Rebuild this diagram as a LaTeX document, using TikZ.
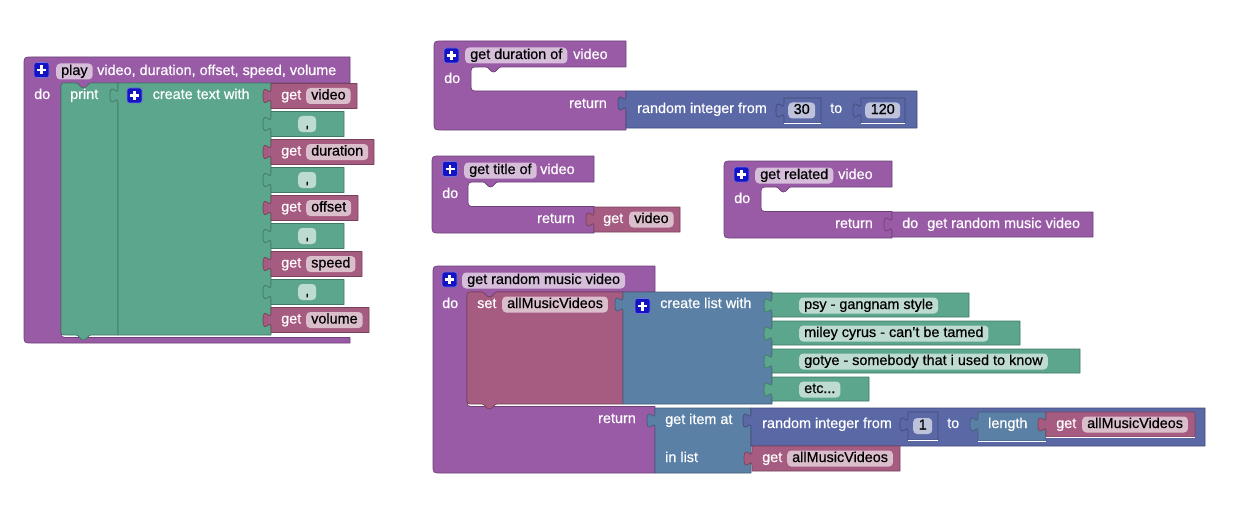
\documentclass[tikz,border=0pt]{standalone}
\usepackage{fontspec}
\setmainfont{Liberation Sans}[FakeBold=0.5]

\definecolor{procpurple}{HTML}{995BA6}
\definecolor{textgreen}{HTML}{5BA68D}
\definecolor{varred}{HTML}{A65B80}
\definecolor{mathblue}{HTML}{5B68A6}
\definecolor{listblue}{HTML}{5B80A6}
\definecolor{pfield}{HTML}{D6BEDB}
\definecolor{gfield}{HTML}{BEDBD1}
\definecolor{rfield}{HTML}{DBBECC}
\definecolor{mfield}{HTML}{BEC2DB}
\definecolor{plusblue}{HTML}{1414C4}

% procedure definition: colour, x0,y0, header right, header bottom, arm right, mouth bottom, bottom-row right, bottom
\newcommand\blkproc[9]{%
  \filldraw[blk=#1] (#2,#3+8) .. controls (#2,#3) .. (#2+8,#3) -- (#4,#3) -- (#4,#5)
    -- (#6+30,#5) .. controls (#6+27,#5) and (#6+26,#5+5) .. (#6+22.5,#5+5)
    .. controls (#6+19,#5+5) and (#6+18,#5) .. (#6+15,#5)
    -- (#6+8,#5) .. controls (#6,#5) .. (#6,#5+8)
    -- (#6,#7-8) .. controls (#6,#7) .. (#6+8,#7)
    -- (#8,#7) -- (#8,#9) -- (#2+8,#9) .. controls (#2,#9) .. (#2,#9-8) -- cycle;}
% statement block: colour, x, y, right, bottom
\newcommand\blkstmt[5]{%
  \filldraw[blk=#1] (#2,#3+6) .. controls (#2,#3) .. (#2+6,#3) -- (#2+15,#3)
    .. controls (#2+18,#3) and (#2+19,#3+5) .. (#2+22.5,#3+5)
    .. controls (#2+26,#3+5) and (#2+27,#3) .. (#2+30,#3)
    -- (#4,#3) -- (#4,#5) -- (#2+30,#5)
    .. controls (#2+27,#5) and (#2+26,#5+5) .. (#2+22.5,#5+5)
    .. controls (#2+19,#5+5) and (#2+18,#5) .. (#2+15,#5)
    -- (#2+6,#5) .. controls (#2,#5) .. (#2,#5-6) -- cycle;}
% value block with output tab: colour, x, y, right, bottom
\newcommand\blkval[5]{%
  \filldraw[blk=#1] (#2,#3) -- (#4,#3) -- (#4,#5) -- (#2,#5) -- (#2,#3+20)
    .. controls (#2,#3+10) and (#2-8,#3+28) .. (#2-8,#3+12.5)
    .. controls (#2-8,#3-3) and (#2,#3+15) .. (#2,#3+5) -- cycle;}
% mutator icon centred at x, y
\newcommand\blkplus[2]{%
  \filldraw[fill=plusblue, draw=plusblue!60!white, line width=0.6pt, rounded corners=2.5pt]
    (#1-7.5,#2-7.5) rectangle (#1+7.5,#2+7.5);
  \draw[white, line width=2.3pt] (#1-4.5,#2) -- (#1+4.5,#2) (#1,#2-4.5) -- (#1,#2+4.5);}

\begin{document}
\begin{tikzpicture}[x=1pt, y=-1pt, font=\fontsize{14.4}{17}\selectfont,
  blk/.style={fill=#1, draw=#1!72!black, line width=0.7pt, line join=round},
  lbl/.style={text=white, anchor=base west, inner sep=0pt},
  lblr/.style={lbl, anchor=base east},
  fld/.style={fill=#1, text=black, anchor=base west, inner xsep=5pt, inner ysep=0pt,
    text height=11.5pt, text depth=4.5pt, rounded corners=4pt},
  numfld/.style={fld=mfield, inner xsep=5.5pt},
  commafld/.style={fld=gfield, minimum width=18pt},
  holeline/.style={white, line width=1.2pt}]
\useasboundingbox (0,0) rectangle (1246,516);
\fill[white] (0,0) rectangle (1246,516);

% ---------- play ----------
\blkproc{procpurple}{24}{57}{350}{83}{61}{337.5}{350}{343}
\blkplus{41.5}{70}
\node[fld=pfield] (playname) at (56,75) {play};
\node[lbl] (playargs) at (97,75) {video, duration, offset, speed, volume};
\node[lbl] (playdo) at (34,99) {do};
\blkstmt{textgreen}{61}{83}{118}{335}
\node[lbl] (printlbl) at (70,99) {print};
\blkval{textgreen}{118}{83}{271}{335}
\blkplus{134.5}{95.5}
\node[lbl] (ctwlbl) at (152.5,99) {create text with};
\blkval{varred}{271}{83.5}{357}{108.5}
\blkval{textgreen}{271}{111.5}{344}{136.5}
\blkval{varred}{271}{139.5}{374}{164.5}
\blkval{textgreen}{271}{167.5}{344}{192.5}
\blkval{varred}{271}{195.5}{358}{220.5}
\blkval{textgreen}{271}{223.5}{344}{248.5}
\blkval{varred}{271}{251.5}{362}{276.5}
\blkval{textgreen}{271}{279.5}{344}{304.5}
\blkval{varred}{271}{307.5}{369}{332.5}
\node[lbl] (g1) at (281,99.5) {get};
\node[fld=rfield] (v1) at (306,99.5) {video};
\node[commafld] (c1) at (298,127.5) {,};
\node[lbl] (g2) at (281,155.5) {get};
\node[fld=rfield] (v2) at (306,155.5) {duration};
\node[commafld] (c2) at (298,183.5) {,};
\node[lbl] (g3) at (281,211.5) {get};
\node[fld=rfield] (v3) at (306,211.5) {offset};
\node[commafld] (c3) at (298,239.5) {,};
\node[lbl] (g4) at (281,267.5) {get};
\node[fld=rfield] (v4) at (306,267.5) {speed};
\node[commafld] (c4) at (298,295.5) {,};
\node[lbl] (g5) at (281,323.5) {get};
\node[fld=rfield] (v5) at (306,323.5) {volume};

% ---------- get duration of ----------
\blkproc{procpurple}{434}{41}{626}{67}{471}{91}{626}{130}
\blkplus{451.5}{55.5}
\node[fld=pfield] (durname) at (465,59) {get duration of};
\node[lbl] (durarg) at (573,59) {video};
\node[lbl] (durdo) at (444,83) {do};
\node[lblr] (durret) at (607,108) {return};
\blkval{mathblue}{626}{91}{917}{128}
\node[lbl] (durrand) at (637,113) {random integer from};
\blkval{mathblue}{784}{98}{821}{123}
\draw[holeline] (784,123.5) -- (821,123.5);
\node[numfld] (durlo) at (788,114) {30};
\node[lbl] (durto) at (830,113) {to};
\blkval{mathblue}{861}{98}{905}{123}
\draw[holeline] (861,123.5) -- (905,123.5);
\node[numfld] (durhi) at (865,114) {120};

% ---------- get title of ----------
\blkproc{procpurple}{432}{156}{594}{182}{468}{206.5}{594}{233}
\blkplus{450}{169}
\node[fld=pfield] (titname) at (464,174) {get title of};
\node[lbl] (titarg) at (540,174) {video};
\node[lbl] (titdo) at (442,198) {do};
\node[lblr] (titret) at (575,223) {return};
\blkval{varred}{594}{207}{680}{232}
\node[lbl] (titget) at (603,223) {get};
\node[fld=rfield] (titvar) at (629,223) {video};

% ---------- get related ----------
\blkproc{procpurple}{724}{161}{892}{187}{761}{211.5}{892}{238}
\blkplus{741.5}{174.5}
\node[fld=pfield] (relname) at (755,179) {get related};
\node[lbl] (relarg) at (838,179) {video};
\node[lbl] (reldo) at (734,203) {do};
\node[lblr] (relret) at (873,228) {return};
\blkval{procpurple}{892}{212}{1093}{237}
\node[lbl] (calldo) at (902,228) {do};
\node[lbl] (callname) at (927,228) {get random music video};

% ---------- get random music video ----------
\blkproc{procpurple}{433}{266}{655}{292}{467}{406.5}{655}{473}
\blkplus{449.5}{279.5}
\node[fld=pfield] (rmvname) at (462,284) {get random music video};
\node[lbl] (rmvdo) at (442,308) {do};
\blkstmt{varred}{467}{292}{623}{404}
\node[lbl] (setlbl) at (477,308) {set};
\node[fld=rfield] (setvar) at (502,308) {allMusicVideos};
\blkval{listblue}{623}{292}{772}{404}
\blkplus{642.5}{306}
\node[lbl] (cllbl) at (660,308) {create list with};
\blkval{textgreen}{772}{293}{969}{317}
\blkval{textgreen}{772}{321}{1020}{345}
\blkval{textgreen}{772}{349}{1080}{373}
\blkval{textgreen}{772}{377}{869}{401}
\node[fld=gfield] (s1) at (799,309) {psy - gangnam style};
\node[fld=gfield] (s2) at (799,337) {miley cyrus - can't be tamed};
\node[fld=gfield] (s3) at (799,365) {gotye - somebody that i used to know};
\node[fld=gfield] (s4) at (799,393) {etc...};
\node[lblr] (rmvret) at (636,423) {return};
\blkval{listblue}{655}{408}{751}{473}
\node[lbl] (gia) at (665,424) {get item at};
\node[lbl] (inl) at (665,462) {in list};
\blkval{mathblue}{751}{408}{1205}{446}
\node[lbl] (rmvrand) at (762,428) {random integer from};
\blkval{mathblue}{908}{412}{938}{440}
\draw[holeline] (908,440.5) -- (938,440.5);
\node[numfld] (rmvlo) at (913,429.5) {1};
\node[lbl] (rmvto) at (947,428) {to};
\blkval{listblue}{978}{412}{1046}{441}
\draw[holeline] (978,441.5) -- (1046,441.5);
\node[lbl] (lenlbl) at (988,428) {length};
\blkval{varred}{1046}{412}{1195}{437}
\draw[holeline] (1046,437.5) -- (1195,437.5);
\node[lbl] (lenget) at (1056,428) {get};
\node[fld=rfield] (lenvar) at (1082,428) {allMusicVideos};
\blkval{varred}{752}{446}{900}{471}
\node[lbl] (listget) at (762,462) {get};
\node[fld=rfield] (listvar) at (787,462) {allMusicVideos};
\end{tikzpicture}
\end{document}
